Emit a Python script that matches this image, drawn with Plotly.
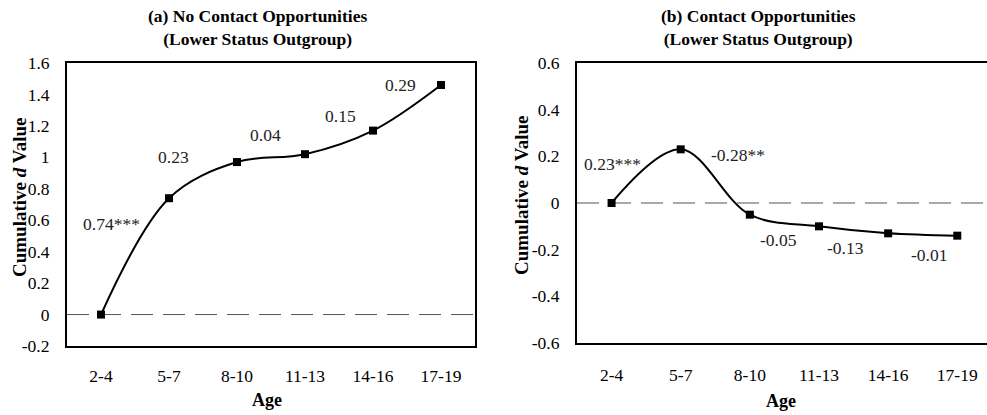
import plotly.graph_objects as go

ages = ["2-4", "5-7", "8-10", "11-13", "14-16", "17-19"]
no_contact = [0.0, 0.74, 0.97, 1.02, 1.17, 1.46]
contact = [0.0, 0.23, -0.05, -0.10, -0.13, -0.14]
no_contact_labels = ["0.74***", "0.23", "0.04", "0.15", "0.29"]
contact_labels = ["0.23***", "-0.28**", "-0.05", "-0.13", "-0.01"]
a_ticks = [-0.2, 0, 0.2, 0.4, 0.6, 0.8, 1.0, 1.2, 1.4, 1.6]
a_ticktext = ["-0.2", "0", "0.2", "0.4", "0.6", "0.8", "1", "1.2", "1.4", "1.6"]
b_ticks = [-0.6, -0.4, -0.2, 0, 0.2, 0.4, 0.6]
b_ticktext = ["-0.6", "-0.4", "-0.2", "0", "0.2", "0.4", "0.6"]

W, H = 987, 415
FONT = "Liberation Serif, Times New Roman, serif"

def px(x):
    return x / W

def py(y):
    return 1 - y / H

fig = go.Figure()

line_style = dict(color="black", width=2, shape="spline", smoothing=1.0)
marker_style = dict(symbol="square", size=8, color="black")

fig.add_trace(go.Scatter(x=ages, y=no_contact, mode="lines+markers",
                         line=line_style, marker=marker_style,
                         xaxis="x", yaxis="y", showlegend=False))
fig.add_trace(go.Scatter(x=ages, y=contact, mode="lines+markers",
                         line=line_style, marker=marker_style,
                         xaxis="x2", yaxis="y2", showlegend=False))

tickfont = dict(family=FONT, size=17.5, color="black")
axis_common = dict(showgrid=False, zeroline=False, showline=True,
                   linecolor="black", linewidth=2, ticks="",
                   tickfont=tickfont, automargin=False)

fig.update_layout(
    template="none",
    width=W, height=H,
    margin=dict(l=0, r=0, t=0, b=0, pad=0),
    paper_bgcolor="white", plot_bgcolor="white",
    font=dict(family=FONT, color="black"),
    xaxis=dict(domain=[px(67), px(475)], range=[-0.5, 5.5], type="category",
               anchor="y", mirror=True, ticklabelstandoff=13, **axis_common),
    yaxis=dict(domain=[py(346), py(63)], range=[-0.2, 1.6],
               tickmode="array", tickvals=a_ticks, ticktext=a_ticktext,
               anchor="x", mirror=True, ticklabelstandoff=12, **axis_common),
    xaxis2=dict(domain=[px(577), 1.0], range=[-0.5, 5.43], type="category",
                anchor="y2", mirror=True, ticklabelstandoff=15, **axis_common),
    yaxis2=dict(domain=[py(343), py(63)], range=[-0.6, 0.6],
                tickmode="array", tickvals=b_ticks, ticktext=b_ticktext,
                anchor="x2", mirror=False, ticklabelstandoff=12, **axis_common),
)

# dashed zero lines
for xr, yr in (("x", "y"), ("x2", "y2")):
    fig.add_shape(type="line", xref=f"{xr} domain", yref=yr, x0=0, x1=1, y0=0, y1=0,
                  line=dict(color="#555555", width=1, dash="22px,10px"), layer="below")

ann_font = dict(family=FONT, size=17.5, color="#222222")

a_pos = [(0.157, 0.574), (1.06, 1.0), (2.42, 1.14), (3.52, 1.26), (4.40, 1.46)]
for (xx, yy), t in zip(a_pos, no_contact_labels):
    fig.add_annotation(x=xx, y=yy, xref="x", yref="y", text=t, showarrow=False,
                       font=ann_font, xanchor="center", yanchor="middle")

b_pos = [(0.01, 0.166), (1.83, 0.204), (2.41, -0.160), (3.39, -0.194), (4.59, -0.224)]
for (xx, yy), t in zip(b_pos, contact_labels):
    fig.add_annotation(x=xx, y=yy, xref="x2", yref="y2", text=t, showarrow=False,
                       font=ann_font, xanchor="center", yanchor="middle")

title_font = dict(family=FONT, size=17.5, color="black")
fig.add_annotation(x=px(257), y=py(27), xref="paper", yref="paper",
                   text="<b>(a) No Contact Opportunities<br>(Lower Status Outgroup)</b>",
                   showarrow=False, font=title_font, align="center",
                   xanchor="center", yanchor="middle")
fig.add_annotation(x=px(758), y=py(27), xref="paper", yref="paper",
                   text="<b>(b) Contact Opportunities<br>(Lower Status Outgroup)</b>",
                   showarrow=False, font=title_font, align="center",
                   xanchor="center", yanchor="middle")

ylab_font = dict(family=FONT, size=19, color="black")
xlab_font = dict(family=FONT, size=18, color="black")
fig.add_annotation(x=px(19), y=py(198), xref="paper", yref="paper",
                   text="<b>Cumulative <i>d</i> Value</b>", textangle=-90,
                   showarrow=False, font=ylab_font, xanchor="center", yanchor="middle")
fig.add_annotation(x=px(522), y=py(196), xref="paper", yref="paper",
                   text="<b>Cumulative <i>d</i> Value</b>", textangle=-90,
                   showarrow=False, font=ylab_font, xanchor="center", yanchor="middle")
fig.add_annotation(x=px(267), y=py(400), xref="paper", yref="paper",
                   text="<b>Age</b>", showarrow=False, font=xlab_font,
                   xanchor="center", yanchor="middle")
fig.add_annotation(x=px(781), y=py(401), xref="paper", yref="paper",
                   text="<b>Age</b>", showarrow=False, font=xlab_font,
                   xanchor="center", yanchor="middle")

fig.write_html("out.html", config={"displayModeBar": False},
               post_script="document.body.style.margin='0';document.body.style.overflow='hidden';")
